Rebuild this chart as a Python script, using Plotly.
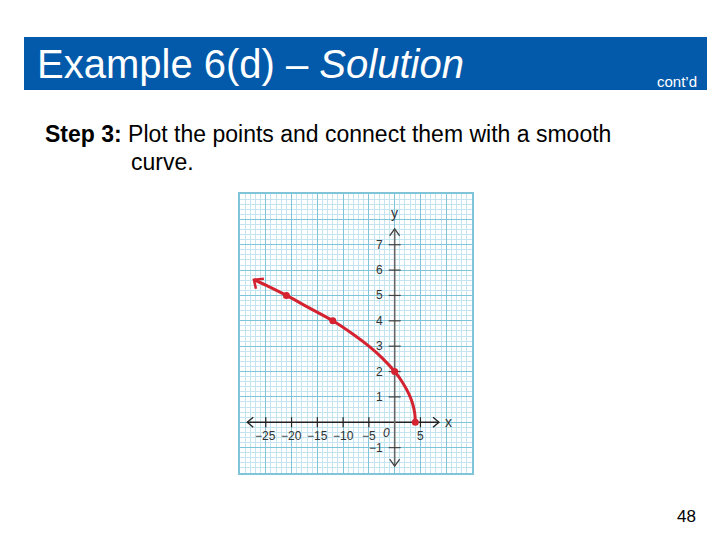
import plotly.graph_objects as go

# ---- data ----
point_x = [-21, -12, 0, 4]
point_y = [5, 4, 2, 0]
curve_x = [-27.3, -24, -21, -16.5, -12, -8, -5, -2.5, 0, 1.5, 2.8, 3.5, 3.9, 4]
curve_y = [5.62, 5.31, 5, 4.5, 4, 3.46, 3, 2.55, 2, 1.58, 1.1, 0.72, 0.35, 0]
x_tick_vals = [-25, -20, -15, -10, -5, 5]
x_tick_text = ["−25", "−20", "−15", "−10", "−5", "5"]
y_tick_vals = [1, 2, 3, 4, 5, 6, 7, -1]
y_tick_text = ["1", "2", "3", "4", "5", "6", "7", "−1"]

X_RANGE = [-30, 15]
Y_RANGE = [-2, 9]
RED = "#d42231"
MAJOR = "#7fc4d8"
MINOR = "#c4e5f0"
HAND = "Liberation Sans, Arial, sans-serif"
SANS = "Liberation Sans, Arial, sans-serif"

W, H, OFF = 720, 540, 8  # page is drawn with an 8px body offset


def px(x):
    return (x - OFF) / W


def py(y):
    return 1 - (y - OFF) / H


fig = go.Figure()

# scale for decorations (units per pixel)
PX_X = (X_RANGE[1] - X_RANGE[0]) / 232.0
PX_Y = (Y_RANGE[1] - Y_RANGE[0]) / 279.0


def seg(xs, ys, color, width):
    fig.add_trace(go.Scatter(x=xs, y=ys, mode="lines", line=dict(color=color, width=width),
                             hoverinfo="skip", showlegend=False))


# axes lines with open arrowheads
xa0, xa1 = -28.6, 8.6
ya0, ya1 = -1.73, 7.63
seg([xa0, xa1], [0, 0], "#222222", 1.6)
seg([xa0 + 6 * PX_X, xa0, xa0 + 6 * PX_X], [5 * PX_Y, 0, -5 * PX_Y], "#222222", 1.3)
seg([xa1 - 6 * PX_X, xa1, xa1 - 6 * PX_X], [5 * PX_Y, 0, -5 * PX_Y], "#222222", 1.3)
seg([0, 0], [ya0, ya1], "#666666", 1.6)
seg([-5 * PX_X, 0, 5 * PX_X], [ya1 - 7 * PX_Y, ya1, ya1 - 7 * PX_Y], "#444444", 1.3)
seg([-5 * PX_X, 0, 5 * PX_X], [ya0 + 7 * PX_Y, ya0, ya0 + 7 * PX_Y], "#444444", 1.3)

# tick marks
tx, ty = [], []
for v in x_tick_vals:
    tx += [v, v, None]
    ty += [-5 * PX_Y, 5 * PX_Y, None]
seg(tx, ty, "#222222", 1.2)
tx, ty = [], []
for v in y_tick_vals:
    tx += [-6 * PX_X, 6 * PX_X, None]
    ty += [v, v, None]
seg(tx, ty, "#444444", 1.2)

# curve
fig.add_trace(go.Scatter(x=curve_x, y=curve_y, mode="lines", line=dict(color=RED, width=3, shape="spline"),
                         hoverinfo="skip", showlegend=False))
# left arrowhead of the curve
ax, ay = curve_x[0], curve_y[0]
seg([ax + 10 * PX_X, ax, ax + 2 * PX_X], [ay + 1 * PX_Y, ay, ay - 9 * PX_Y], RED, 2.5)
fig.add_trace(go.Scatter(x=point_x, y=point_y, mode="markers", marker=dict(color=RED, size=7),
                         hoverinfo="skip", showlegend=False))

ann = []
for v, t in zip(x_tick_vals, x_tick_text):
    ann.append(dict(x=v, y=-0.55, xref="x", yref="y", text=t, showarrow=False,
                    font=dict(family=HAND, size=12, color="#333333")))
for v, t in zip(y_tick_vals, y_tick_text):
    ann.append(dict(x=-1.9, y=v, xref="x", yref="y", text=t, showarrow=False, xanchor="right",
                    font=dict(family=HAND, size=12, color="#333333")))
ann.append(dict(x=-1.6, y=-0.42, xref="x", yref="y", text="<i>0</i>", showarrow=False,
                font=dict(family=HAND, size=12, color="#333333")))
ann.append(dict(x=10.5, y=0.02, xref="x", yref="y", text="x", showarrow=False,
                font=dict(family=HAND, size=14, color="#333333")))
ann.append(dict(x=0, y=8.27, xref="x", yref="y", text="y", showarrow=False,
                font=dict(family=HAND, size=14, color="#333333")))

# slide texts
ann.append(dict(x=px(35), y=py(64), xref="paper", yref="paper", xanchor="left", yanchor="middle",
                text="Example 6(d) – <i>Solution</i>", showarrow=False,
                font=dict(family=SANS, size=40, color="white")))
ann.append(dict(x=px(699), y=py(81), xref="paper", yref="paper", xanchor="right", yanchor="middle",
                text="cont’d", showarrow=False, font=dict(family=SANS, size=15, color="white")))
ann.append(dict(x=px(43), y=py(134), xref="paper", yref="paper", xanchor="left", yanchor="middle",
                text="<b>Step 3:</b> Plot the points and connect them with a smooth", showarrow=False,
                font=dict(family=SANS, size=23, color="black")))
ann.append(dict(x=px(129), y=py(162), xref="paper", yref="paper", xanchor="left", yanchor="middle",
                text="curve.", showarrow=False, font=dict(family=SANS, size=23, color="black")))
ann.append(dict(x=px(686), y=py(517), xref="paper", yref="paper", xanchor="center", yanchor="middle",
                text="48", showarrow=False, font=dict(family=SANS, size=17, color="black")))

shapes = [dict(type="rect", xref="paper", yref="paper", x0=px(24), x1=px(707),
               y0=py(90), y1=py(37), fillcolor="#045aaa", line=dict(width=0), layer="below")]

fig.update_layout(
    width=W, height=H, margin=dict(l=0, r=0, t=0, b=0),
    paper_bgcolor="white", plot_bgcolor="white",
    annotations=ann, shapes=shapes,
    xaxis=dict(domain=[px(240), px(472)], range=X_RANGE, dtick=5, tick0=0,
               showgrid=True, gridcolor=MAJOR, gridwidth=1.3,
               minor=dict(dtick=1, showgrid=True, gridcolor=MINOR, gridwidth=1),
               showticklabels=False, ticks="", zeroline=False,
               showline=True, mirror=True, linecolor=MAJOR, linewidth=1.5, fixedrange=True),
    yaxis=dict(domain=[py(473), py(194)], range=Y_RANGE, dtick=1, tick0=0,
               showgrid=True, gridcolor=MAJOR, gridwidth=1.3,
               minor=dict(dtick=0.2, showgrid=True, gridcolor=MINOR, gridwidth=1),
               showticklabels=False, ticks="", zeroline=False,
               showline=True, mirror=True, linecolor=MAJOR, linewidth=1.5, fixedrange=True),
)

fig.write_html("out.html")
